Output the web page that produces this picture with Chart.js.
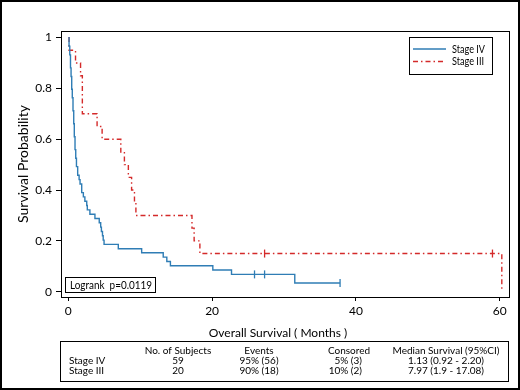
<!DOCTYPE html>
<html lang="en">
<head>
  <title>Overall Survival by Stage</title>
  <script type="text/javascript" src="https://cdn.jsdelivr.net/npm/chart.js"></script>
  <style>
    body { margin: 0; background: #fff; }
    #wrap { width: 520px; height: 390px; }
  </style>
</head>
<body>
<div id="wrap"><canvas id="km" width="520" height="390"></canvas></div>

<script>
  // Kaplan-Meier steps (months, survival probability)
  const stageIVMonths   = [0, 0.1, 0.2, 0.3, 0.38, 0.47, 0.55, 0.65, 0.75, 0.83, 0.93, 1.03, 1.13, 1.3, 1.5, 1.63, 1.86, 2.09, 2.3, 2.56, 2.64, 3.0, 3.7, 4.3, 4.5, 4.6, 4.75, 4.85, 4.97, 6.95, 10.2, 13.2, 13.7, 14.2, 20.1, 22.7, 31.5, 37.8];
  const stageIVSurvival = [1, 0.966, 0.932, 0.881, 0.847, 0.797, 0.763, 0.712, 0.661, 0.61, 0.559, 0.525, 0.492, 0.458, 0.441, 0.424, 0.39, 0.373, 0.356, 0.339, 0.322, 0.305, 0.288, 0.271, 0.254, 0.237, 0.22, 0.203, 0.186, 0.169, 0.153, 0.136, 0.119, 0.102, 0.085, 0.068, 0.034, 0.034];
  const stageIVCensorMonths   = [25.9, 27.3, 37.8];
  const stageIVCensorSurvival = [0.068, 0.068, 0.034];

  const stageIIIMonths   = [0, 0.1, 1.0, 1.7, 1.95, 4.0, 4.7, 7.3, 7.8, 8.35, 8.8, 9.2, 9.4, 17.2, 17.5, 18.3, 60.3];
  const stageIIISurvival = [1, 0.95, 0.9, 0.85, 0.7, 0.65, 0.6, 0.55, 0.5, 0.45, 0.4, 0.35, 0.3, 0.25, 0.2, 0.15, 0];
  const stageIIICensorMonths   = [27.3, 59];
  const stageIIICensorSurvival = [0.15, 0.15];

  const xTicks = [0, 20, 40, 60];
  const yTicks = [0, 0.2, 0.4, 0.6, 0.8, 1];

  // summary table under the plot
  const tableHeader = ['', 'No. of Subjects', 'Events', 'Consored', 'Median Survival (95%CI)'];
  const tableRows = [
    ['Stage IV', '59', '95% (56)', '5% (3)', '1.13 (0.92 - 2.20)'],
    ['Stage III', '20', '90% (18)', '10% (2)', '7.97 (1.9 - 17.08)'],
  ];
  const logrankText = 'Logrank  p=0.0119';

  const blue = '#2f7db5';
  const red = '#d42a2a';
  const redDash = [5, 3, 1.5, 3];
  const fontFamily = 'Lato, "Open Sans", sans-serif';

  const toPoints = (xs, ys) => xs.map((x, i) => ({ x: x, y: ys[i] }));

  // draws the frames, legend box, notes and table on top of the chart
  const annotations = {
    id: 'annotations',
    afterDraw(chart) {
      const ctx = chart.ctx;
      const a = chart.chartArea;
      ctx.save();
      ctx.strokeStyle = '#000';
      ctx.fillStyle = '#000';

      // outer frame
      ctx.lineWidth = 2;
      ctx.strokeRect(1, 1, 518, 388);

      // plot box
      ctx.lineWidth = 1;
      ctx.strokeRect(a.left + 0.5, a.top + 0.5, a.right - a.left, a.bottom - a.top);

      // legend box (the original font is narrow, so squeeze the labels a bit)
      ctx.lineWidth = 1;
      ctx.strokeRect(409.5, 37.5, 83, 37);
      ctx.font = '12px ' + fontFamily;
      ctx.textBaseline = 'middle';
      ctx.textAlign = 'left';
      const legendItems = [[chart.data.datasets[0].label, blue, [], 33], [chart.data.datasets[1].label, red, redDash, 32]];
      legendItems.forEach((item, i) => {
        const y = 49 + i * 12.5;
        ctx.strokeStyle = item[1];
        ctx.lineWidth = 1.3;
        ctx.setLineDash(item[2]);
        ctx.beginPath();
        ctx.moveTo(413, y);
        ctx.lineTo(446, y);
        ctx.stroke();
        ctx.setLineDash([]);
        ctx.fillText(item[0], 452, y, item[3]);
      });

      // logrank note
      ctx.strokeStyle = '#000';
      ctx.lineWidth = 1;
      ctx.strokeRect(65.5, 277.5, 90, 15);
      ctx.font = '11.5px ' + fontFamily;
      ctx.fillText(logrankText, 70, 285.5, 82);

      // axis titles
      ctx.font = '14px ' + fontFamily;
      ctx.textAlign = 'center';
      ctx.save();
      ctx.translate(23, 164);
      ctx.rotate(-Math.PI / 2);
      ctx.fillText('Survival Probability', 0, 0);
      ctx.restore();

      ctx.font = '12px ' + fontFamily;
      ctx.fillText('Overall Survival ( Months )', 278, 333);

      // summary table
      ctx.lineWidth = 1;
      ctx.strokeRect(60.5, 341.5, 448, 40);
      ctx.font = '10px ' + fontFamily;
      const colX = [69, 178, 259, 349, 446];
      const rowY = [350.5, 361, 371];
      [tableHeader].concat(tableRows).forEach((row, r) => {
        row.forEach((cell, c) => {
          if (c === 0) {
            ctx.textAlign = 'left';
            ctx.fillText(cell, colX[0], rowY[r]);
          } else if (c === 3 && r > 0) {
            ctx.textAlign = 'right';
            ctx.fillText(cell, 362, rowY[r]);
          } else {
            ctx.textAlign = 'center';
            ctx.fillText(cell, colX[c], rowY[r]);
          }
        });
      });
      ctx.restore();
    }
  };

  const ctx = document.getElementById('km').getContext('2d');

  new Chart(ctx, {
    type: 'line',
    data: {
      datasets: [
        {
          label: 'Stage IV',
          data: toPoints(stageIVMonths, stageIVSurvival),
          borderColor: blue,
          borderWidth: 1.4,
          stepped: 'before',
          pointRadius: 0,
          fill: false,
        },
        {
          label: 'Stage III',
          data: toPoints(stageIIIMonths, stageIIISurvival),
          borderColor: red,
          borderWidth: 1.4,
          borderDash: redDash,
          stepped: 'before',
          pointRadius: 0,
          fill: false,
        },
        {
          label: 'Stage IV censored',
          data: toPoints(stageIVCensorMonths, stageIVCensorSurvival),
          showLine: false,
          pointStyle: 'line',
          rotation: 90,
          pointRadius: 4,
          borderColor: blue,
          borderWidth: 1.3,
        },
        {
          label: 'Stage III censored',
          data: toPoints(stageIIICensorMonths, stageIIICensorSurvival),
          showLine: false,
          pointStyle: 'line',
          rotation: 90,
          pointRadius: 4,
          borderColor: red,
          borderWidth: 1.3,
        },
      ],
    },
    options: {
      responsive: false,
      animation: false,
      devicePixelRatio: 1,
      layout: { padding: { left: 0, top: 31, right: 11, bottom: 0 } },
      plugins: {
        legend: { display: false },
        tooltip: { enabled: false },
      },
      scales: {
        x: {
          type: 'linear',
          min: -1.02,
          max: 61.3,
          afterBuildTicks: (scale) => { scale.ticks = xTicks.map(v => ({ value: v })); },
          afterFit: (scale) => { scale.height = 93; },
          grid: { drawOnChartArea: false, drawTicks: true, tickLength: 4, color: '#000' },
          border: { display: true, color: '#000' },
          ticks: { color: '#000', padding: 3, font: { family: fontFamily, size: 12 }, maxRotation: 0 },
        },
        y: {
          type: 'linear',
          min: -0.021,
          max: 1.026,
          afterBuildTicks: (scale) => { scale.ticks = yTicks.map(v => ({ value: v })); },
          afterFit: (scale) => { scale.width = 61; },
          grid: { drawOnChartArea: false, drawTicks: true, tickLength: 5, color: '#000' },
          border: { display: true, color: '#000' },
          ticks: {
            color: '#000',
            padding: 4,
            font: { family: fontFamily, size: 12 },
            callback: (v) => String(Math.round(v * 10) / 10),
          },
        },
      },
    },
    plugins: [annotations],
  });
</script>

</body>
</html>
